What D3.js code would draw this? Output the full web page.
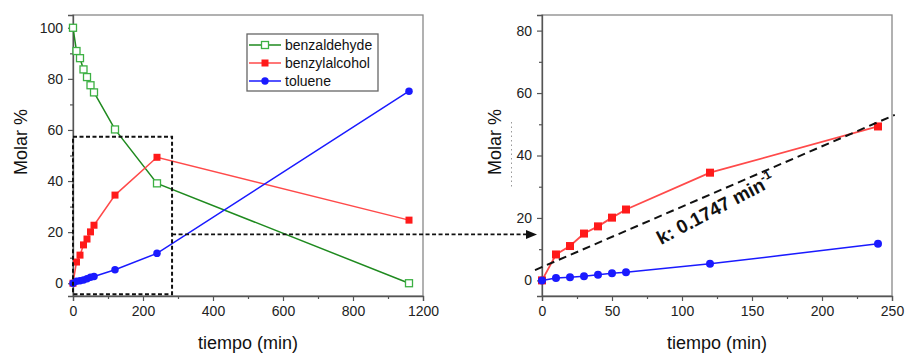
<!DOCTYPE html>
<html><head><meta charset="utf-8">
<script src="https://cdn.jsdelivr.net/npm/d3@7"></script>
<style>
body{margin:0;background:#fff}
text{font-family:"Liberation Sans",Arial,sans-serif}
</style>
</head><body>
<svg id="c" width="907" height="358"></svg>
<script>
// ---- data ----
const time = [0,10,20,30,40,50,60,120,240,960];
const benzaldehyde = [100,90.9,88.1,83.7,80.7,77.5,74.7,60.2,39.1,0];
const benzylalcohol = [0,8.3,11,15,17.3,20.1,22.7,34.5,49.3,24.7];
const toluene = [0,0.8,1,1.3,1.8,2.3,2.6,5.3,11.7,75.2];
const seriesNames = ["benzaldehyde","benzylalcohol","toluene"];
const leftXTicks = [0,200,400,600,800,1000];
const leftXTickLabels = ["0","200","400","600","800","1200"];
const leftYTicks = [0,20,40,60,80,100];
const rightXTicks = [0,50,100,150,200,250];
const rightYTicks = [0,20,40,60,80];
const zoomMaxTime = 240;
const fitLine = [[-5,3.3],[252,53]];
const kLabel = "k: 0.1747 min";
const kExp = "-1";
const zoomBox = {x0:0, x1:283, y0:-4.3, y1:57.3};
const arrowY = 19.1;

// ---- layout ----
const svg = d3.select("#c");
const L = {x0:73, x1:423, y0:15, y1:296};
const R = {x0:542, x1:892, y0:15, y1:296};
const colors = {benzaldehyde:"#1f8a1f", benzaldehydeMk:"#3cb043", benzylalcohol:"#ff4a4a", benzylalcoholMk:"#ff1a1a", toluene:"#1a1aff"};
const axisColor = "#555", frameColor = "#888", tickText = "#222";

const xL = d3.scaleLinear().domain([0,1000]).range([L.x0,L.x1]);
const yL = d3.scaleLinear().domain([-5,105]).range([L.y1,L.y0]);
const xR = d3.scaleLinear().domain([0,250]).range([R.x0,R.x1]);
const yR = d3.scaleLinear().domain([-5,85]).range([R.y1,R.y0]);

function frame(P){
  svg.append("rect").attr("x",P.x0).attr("y",P.y0).attr("width",P.x1-P.x0).attr("height",P.y1-P.y0)
    .attr("fill","none").attr("stroke",frameColor).attr("stroke-width",1.3);
}
function styleAxis(g){
  g.selectAll(".domain").attr("stroke",axisColor).attr("stroke-width",1.3);
  g.selectAll(".tick line").attr("stroke",axisColor).attr("stroke-width",1.2);
  g.selectAll("text").attr("fill",tickText).style("font-size","14px").style("font-family","Liberation Sans, Arial, sans-serif");
}
function axes(P,x,y,xt,xlab,yt,xMinor,yMinor){
  frame(P);
  const gx = svg.append("g").attr("transform",`translate(0,${P.y1})`)
    .call(d3.axisBottom(x).tickValues(xt).tickSize(5).tickPadding(5).tickFormat((d,i)=>xlab?xlab[i]:d));
  styleAxis(gx);
  const gxm = svg.append("g").attr("transform",`translate(0,${P.y1})`)
    .call(d3.axisBottom(x).tickValues(xMinor).tickSize(3).tickFormat(""));
  styleAxis(gxm); gxm.select(".domain").remove();
  const gy = svg.append("g").attr("transform",`translate(${P.x0},0)`)
    .call(d3.axisLeft(y).tickValues(yt).tickSize(5).tickPadding(5));
  styleAxis(gy);
  const gym = svg.append("g").attr("transform",`translate(${P.x0},0)`)
    .call(d3.axisLeft(y).tickValues(yMinor).tickSize(3).tickFormat(""));
  styleAxis(gym); gym.select(".domain").remove();
  svg.append("text").attr("x",(P.x0+P.x1)/2).attr("y",349).attr("text-anchor","middle")
    .style("font-size","18px").attr("fill","#111").text("tiempo (min)");
}
axes(L,xL,yL,leftXTicks,leftXTickLabels,leftYTicks,[100,300,500,700,900],[10,30,50,70,90]);
axes(R,xR,yR,rightXTicks,null,rightYTicks,[25,75,125,175,225],[10,30,50,70]);
svg.append("text").attr("transform","translate(27,142) rotate(-90)").attr("text-anchor","middle")
  .style("font-size","18px").attr("fill","#111").text("Molar %");
svg.append("text").attr("transform","translate(501,142) rotate(-90)").attr("text-anchor","middle")
  .style("font-size","18px").attr("fill","#111").text("Molar %");
svg.append("line").attr("x1",511.5).attr("x2",511.5).attr("y1",122).attr("y2",188)
  .attr("stroke","#999").attr("stroke-width",1).attr("stroke-dasharray","1.5,3");

// ---- series ----
const rows = time.map((t,i)=>({t, benzaldehyde:benzaldehyde[i], benzylalcohol:benzylalcohol[i], toluene:toluene[i]}));

function drawSeries(data,key,x,y,lw,mk){
  const line = d3.line().x(d=>x(d.t)).y(d=>y(d[key]));
  svg.append("path").datum(data).attr("d",line).attr("fill","none")
    .attr("stroke",colors[key]).attr("stroke-width",lw);
  const g = svg.append("g");
  if(key==="benzaldehyde"){
    g.selectAll("rect").data(data).join("rect")
      .attr("x",d=>x(d.t)-mk/2).attr("y",d=>y(d[key])-mk/2).attr("width",mk).attr("height",mk)
      .attr("fill","#fff").attr("stroke",colors.benzaldehydeMk).attr("stroke-width",1.3);
  } else if(key==="benzylalcohol"){
    g.selectAll("rect").data(data).join("rect")
      .attr("x",d=>x(d.t)-mk/2).attr("y",d=>y(d[key])-mk/2).attr("width",mk).attr("height",mk)
      .attr("fill",colors.benzylalcoholMk);
  } else {
    g.selectAll("circle").data(data).join("circle")
      .attr("cx",d=>x(d.t)).attr("cy",d=>y(d[key])).attr("r",mk/2).attr("fill",colors.toluene);
  }
}
drawSeries(rows,"benzaldehyde",xL,yL,1.5,7);
drawSeries(rows,"benzylalcohol",xL,yL,1.5,7);
drawSeries(rows,"toluene",xL,yL,1.5,7.5);

svg.append("rect").attr("x",xL(zoomBox.x0)).attr("y",yL(zoomBox.y1))
  .attr("width",xL(zoomBox.x1)-xL(zoomBox.x0)).attr("height",yL(zoomBox.y0)-yL(zoomBox.y1))
  .attr("fill","none").attr("stroke","#111").attr("stroke-width",2).attr("stroke-dasharray","4,2.5");
const ay = yL(arrowY);
svg.append("line").attr("x1",xL(zoomBox.x1)).attr("x2",R.x0-14).attr("y1",ay).attr("y2",ay)
  .attr("stroke","#111").attr("stroke-width",1.8).attr("stroke-dasharray","4,2.5");
svg.append("path").attr("d",`M${R.x0-5},${ay} L${R.x0-16},${ay-4.5} L${R.x0-16},${ay+4.5} Z`).attr("fill","#111");

const zoomRows = rows.filter(d=>d.t<=zoomMaxTime);
drawSeries(zoomRows,"benzylalcohol",xR,yR,1.8,8);
drawSeries(zoomRows,"toluene",xR,yR,1.5,8);
svg.append("line").attr("x1",xR(fitLine[0][0])).attr("y1",yR(fitLine[0][1]))
  .attr("x2",xR(fitLine[1][0])).attr("y2",yR(fitLine[1][1]))
  .attr("stroke","#111").attr("stroke-width",2).attr("stroke-dasharray","8,5");
const kt = svg.append("text").attr("transform","translate(661,245) rotate(-28)")
  .style("font-size","19px").style("font-weight","bold").attr("fill","#111");
kt.append("tspan").text(kLabel);
kt.append("tspan").attr("dy",-8).style("font-size","12px").text(kExp);

const lg = svg.append("g");
lg.append("rect").attr("x",247).attr("y",34).attr("width",131).attr("height",57)
  .attr("fill","#fff").attr("stroke","#666").attr("stroke-width",1.3);
const lgY = [45,63,81];
seriesNames.forEach((k,i)=>{
  const yy = lgY[i];
  lg.append("line").attr("x1",249).attr("x2",281).attr("y1",yy).attr("y2",yy)
    .attr("stroke",colors[k]).attr("stroke-width",1.5);
  if(k==="benzaldehyde") lg.append("rect").attr("x",261.5).attr("y",yy-3.5).attr("width",7).attr("height",7)
    .attr("fill","#fff").attr("stroke",colors.benzaldehydeMk).attr("stroke-width",1.3);
  else if(k==="benzylalcohol") lg.append("rect").attr("x",261.5).attr("y",yy-3.5).attr("width",7).attr("height",7)
    .attr("fill",colors.benzylalcoholMk);
  else lg.append("circle").attr("cx",265).attr("cy",yy).attr("r",3.7).attr("fill",colors.toluene);
  lg.append("text").attr("x",285).attr("y",yy).attr("dy","0.35em").style("font-size","14px")
    .attr("fill","#111").text(k);
});
</script>
</body></html>
